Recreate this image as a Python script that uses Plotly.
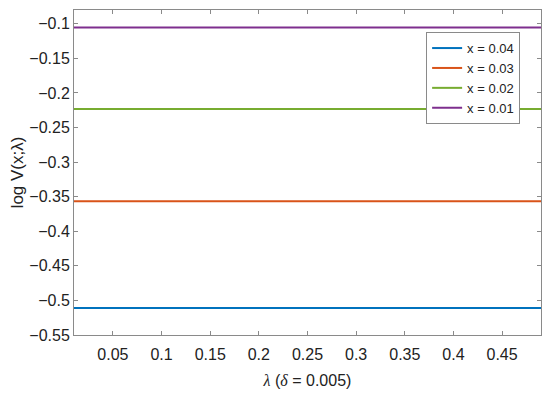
import plotly.graph_objects as go

lam = [0.01, 0.49]
labels = ["x = 0.04", "x = 0.03", "x = 0.02", "x = 0.01"]
values = [
    [-0.5108, -0.5108],
    [-0.3567, -0.3567],
    [-0.2231, -0.2231],
    [-0.1054, -0.1054],
]
colors = ["#0072BD", "#D95319", "#77AC30", "#7E2F8E"]

x_ticks = [0.05, 0.1, 0.15, 0.2, 0.25, 0.3, 0.35, 0.4, 0.45]
y_ticks = [-0.55, -0.5, -0.45, -0.4, -0.35, -0.3, -0.25, -0.2, -0.15, -0.1]

fig = go.Figure()
for lab, v, c in zip(labels, values, colors):
    fig.add_trace(go.Scatter(x=lam, y=v, mode="lines", name=lab,
                             line=dict(color=c, width=2)))

axis_common = dict(showline=True, linecolor="#8a8a8a", linewidth=1, mirror="ticks",
                   ticks="inside", ticklen=4, tickcolor="#8a8a8a", showgrid=False,
                   zeroline=False, tickfont=dict(size=16, color="#222222"))

# page body has an 8px default margin; figure sized/margined to compensate
fig.update_layout(
    width=542, height=387,
    margin=dict(l=66, r=9, t=2, b=60, autoexpand=False),
    paper_bgcolor="white", plot_bgcolor="white",
    font=dict(family="Liberation Sans, Arial, sans-serif", size=16, color="#222222"),
    xaxis=dict(range=[0.01, 0.49], tickvals=x_ticks,
               ticktext=[f"{t:g}" for t in x_ticks],
               ticklabelstandoff=5,
               title=dict(text="<span style='font-family:Liberation Serif'><i>λ</i></span> (<span style='font-family:Liberation Serif'><i>δ</i></span> = 0.005)",
                          font=dict(size=16), standoff=12),
               **axis_common),
    yaxis=dict(range=[-0.55, -0.08], tickvals=y_ticks,
               ticktext=["\u2212" + f"{abs(t):g}" for t in y_ticks],
               title=dict(text="log V(x;λ)", font=dict(size=17), standoff=7),
               **axis_common),
    legend=dict(x=0.754, y=0.932, xanchor="left", yanchor="top",
                bgcolor="white", bordercolor="#8a8a8a", borderwidth=1,
                font=dict(size=13), tracegroupgap=0, itemwidth=30),
    showlegend=True,
)

fig.write_html("out.html")
